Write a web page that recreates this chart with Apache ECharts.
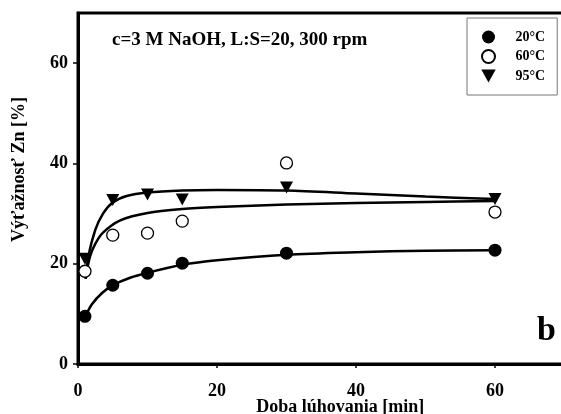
<!DOCTYPE html>
<html>
<head>
<meta charset="utf-8">
<script src="https://cdn.jsdelivr.net/npm/echarts@6/dist/echarts.min.js"></script>
<style>
  html, body { margin: 0; padding: 0; background: #fff; }
  #chart { width: 561px; height: 414px; }
</style>
</head>
<body>
<div id="chart"></div>
<script>
// Leaching time [min] and measured Zn yield [%] at three temperatures
const seriesNames = ['20°C', '60°C', '95°C'];
const times = [1, 5, 10, 15, 30, 60];
const yield20 = [9.5, 15.7, 18.1, 20.1, 22.1, 22.7];
const yield60 = [18.5, 25.7, 26.1, 28.5, 40.1, 30.3];
const yield95 = [21.0, 32.7, 33.8, 32.8, 35.2, 32.9];

// Fitted kinetic curves (time, yield)
const fit20 = [[1, 9.3], [2, 11.9], [3.5, 14.2], [5, 15.7], [7.5, 17.2], [10, 18.2], [15, 19.8], [20, 20.7], [30, 21.8], [40, 22.3], [50, 22.6], [60, 22.7]];
const fit60 = [[1.1, 17], [1.7, 21.3], [2.5, 24], [3.6, 26.2], [6, 28.6], [10, 30.1], [15, 30.9], [20, 31.3], [30, 31.8], [40, 32.1], [50, 32.3], [60, 32.5]];
const fit95 = [[1.1, 17], [1.5, 21.5], [2.5, 26.8], [3.6, 30], [5, 32.2], [7, 33.5], [10, 34.2], [15, 34.6], [20, 34.7], [30, 34.6], [40, 34.0], [50, 33.4], [60, 32.9]];

const tickValues = [0, 20, 40, 60];
const conditionsText = 'c=3 M NaOH, L:S=20, 300 rpm';
const panelLetter = 'b';

const FONT = '"Liberation Serif", "Times New Roman", serif';
const downTriangle = 'path://M0,0 L10,0 L5,9 Z';

function pairs(xs, ys) { return xs.map((x, i) => [x, ys[i]]); }

function fitLine(data) {
  return {
    type: 'line', data: data, smooth: 0.3,
    showSymbol: false, silent: true,
    lineStyle: { color: '#000', width: 2.5 }, z: 2
  };
}

const chart = echarts.init(document.getElementById('chart'));
chart.setOption({
  animation: false,
  backgroundColor: '#fff',
  grid: {
    left: 78, top: 13, width: 486.5, bottom: 50,
    containLabel: false, outerBoundsMode: 'none',
    show: true, borderColor: '#000', borderWidth: 3
  },
  xAxis: {
    type: 'value', min: 0, max: 70, interval: 20,
    name: 'Doba lúhovania [min]', nameLocation: 'middle', nameGap: 34, nameMoveOverlap: false,
    nameTextStyle: { fontFamily: FONT, fontWeight: 'bold', fontSize: 18, color: '#000', padding: [0, 0, 0, 38] },
    axisLine: { lineStyle: { color: '#000', width: 3 } },
    axisTick: { show: true, length: 4, lineStyle: { color: '#000', width: 1.5 }, customValues: tickValues },
    axisLabel: { fontFamily: FONT, fontWeight: 'bold', fontSize: 18, color: '#000', margin: 18, customValues: tickValues },
    splitLine: { show: false }
  },
  yAxis: {
    type: 'value', min: 0, max: 70, interval: 20,
    name: 'Výťažnosť Zn [%]', nameLocation: 'middle', nameGap: 50, nameMoveOverlap: false,
    nameTextStyle: { fontFamily: FONT, fontWeight: 'bold', fontSize: 18, color: '#000', padding: [0, 0, 0, 38] },
    axisLine: { lineStyle: { color: '#000', width: 3 } },
    axisTick: { show: true, length: 5, lineStyle: { color: '#000', width: 1.5 }, customValues: tickValues },
    axisLabel: { fontFamily: FONT, fontWeight: 'bold', fontSize: 18, color: '#000', margin: 10, customValues: tickValues },
    splitLine: { show: false }
  },
  legend: {
    orient: 'vertical', left: 467, top: 18,
    data: seriesNames,
    itemWidth: 44, itemHeight: 13, itemGap: 5,
    padding: [12, 12, 12, 14],
    borderColor: '#777', borderWidth: 1,
    textStyle: { fontFamily: FONT, fontWeight: 'bold', fontSize: 14, color: '#000' }
  },
  graphic: [
    {
      type: 'text', left: 112, top: 31,
      style: { text: conditionsText, font: 'bold 19px ' + FONT, fill: '#000' }
    },
    {
      type: 'text', left: 537, top: 314,
      style: { text: panelLetter, font: 'bold 34px ' + FONT, fill: '#000' }
    }
  ],
  series: [
    fitLine(fit20), fitLine(fit60), fitLine(fit95),
    {
      name: seriesNames[0], type: 'scatter', data: pairs(times, yield20),
      symbol: 'circle', symbolSize: 13,
      itemStyle: { color: '#000', opacity: 1 }, z: 3
    },
    {
      name: seriesNames[1], type: 'scatter', data: pairs(times, yield60),
      symbol: 'circle', symbolSize: 12,
      itemStyle: { color: '#fff', borderColor: '#000', borderWidth: 1.3, opacity: 1 }, z: 3
    },
    {
      name: seriesNames[2], type: 'scatter', data: pairs(times, yield95),
      symbol: downTriangle, symbolSize: [13, 12],
      itemStyle: { color: '#000', opacity: 1 }, z: 3
    }
  ]
});
</script>
</body>
</html>
